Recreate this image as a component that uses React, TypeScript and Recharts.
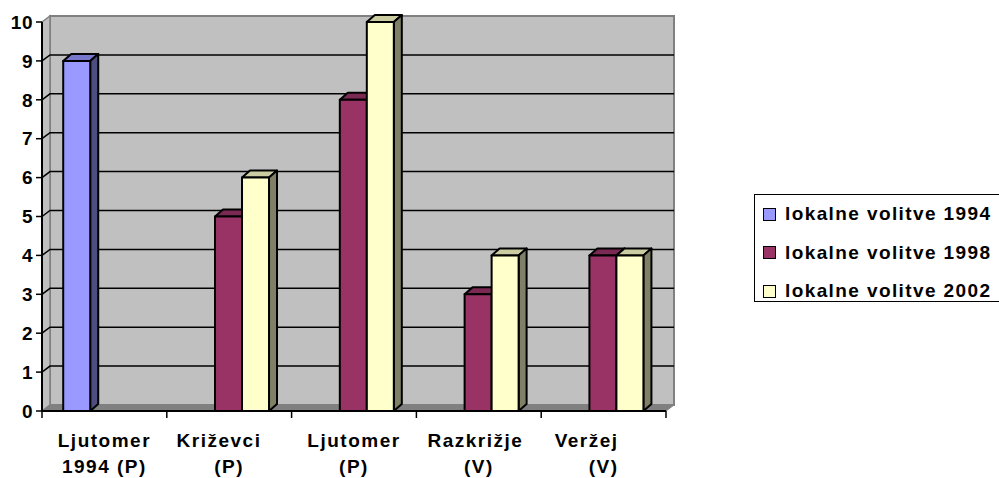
import { BarChart, Bar, XAxis, YAxis, CartesianGrid } from "recharts";

const categories = [
  "Ljutomer\n1994 (P)",
  "Križevci   \n(P)",
  "Ljutomer\n(P)",
  "Razkrižje \n(V)",
  "Veržej     \n(V)",
];
const votes1994 = [9, null, null, null, null];
const votes1998 = [null, 5, 8, 3, 4];
const votes2002 = [null, 6, 10, 4, 4];
const yTicks = [0, 1, 2, 3, 4, 5, 6, 7, 8, 9, 10];

const series = [
  { key: "v1994", name: "lokalne volitve 1994", front: "#9999FF", top: "#7777CC", side: "#4D4D80" },
  { key: "v1998", name: "lokalne volitve 1998", front: "#993366", top: "#7A2952", side: "#4D1A33" },
  { key: "v2002", name: "lokalne volitve 2002", front: "#FFFFCC", top: "#CCCCA3", side: "#808066" },
];

const data = categories.map((name, i) => ({
  name,
  v1994: votes1994[i],
  v1998: votes1998[i],
  v2002: votes2002[i],
}));

const FONT = "'Liberation Sans', Arial, sans-serif";
const CHART_W = 999;
const CHART_H = 478;
const MARGIN = { top: 22, right: 333, bottom: 0, left: 0 };
const Y_AXIS_W = 42;
const X_AXIS_H = 67;
const PLOT_W = CHART_W - MARGIN.left - MARGIN.right - Y_AXIS_W;
const BAND = PLOT_W / categories.length;

// depth of the fake 3d box
const DX = 8;
const DY = 6;

function GridLine(props: any) {
  const { x1, y1, x2, index, x, y, width, height } = props;
  const walls =
    index === 0 ? (
      <g>
        <rect x={x + DX} y={y - DY} width={width} height={height} fill="#C0C0C0" stroke="#808080" strokeWidth={2} />
        <polygon
          points={`${x},${y} ${x + DX},${y - DY} ${x + DX},${y + height - DY} ${x},${y + height}`}
          fill="#C0C0C0"
          stroke="#808080"
          strokeWidth={1.5}
        />
        <polygon
          points={`${x},${y + height} ${x + DX},${y + height - DY} ${x + width + DX},${y + height - DY} ${x + width},${y + height}`}
          fill="#808080"
          stroke="#808080"
          strokeWidth={1}
        />
      </g>
    ) : null;
  const edge = Math.abs(y1 - y) < 0.5 || Math.abs(y1 - (y + height)) < 0.5;
  return (
    <g key={props.key}>
      {walls}
      {!edge && (
        <polyline
          points={`${x1},${y1} ${x1 + DX},${y1 - DY} ${x2 + DX},${y1 - DY}`}
          fill="none"
          stroke="#000"
          strokeWidth={1.5}
        />
      )}
    </g>
  );
}

function Bar3D(props: any) {
  const { x, y, width: w, height: h, front, top, side } = props;
  if (!(h > 0)) return null;
  const dx = DX;
  const dy = DY + 1;
  return (
    <g stroke="#000" strokeWidth={2} strokeLinejoin="round">
      <polygon points={`${x},${y} ${x + dx},${y - dy} ${x + w + dx},${y - dy} ${x + w},${y}`} fill={top} />
      <polygon points={`${x + w},${y} ${x + w + dx},${y - dy} ${x + w + dx},${y + h - dy} ${x + w},${y + h}`} fill={side} />
      <rect x={x} y={y} width={w} height={h} fill={front} />
    </g>
  );
}

function CategoryTick(props: any) {
  const { x, y, payload, index } = props;
  const lines = String(payload.value).split("\n");
  const half = BAND / 2;
  return (
    <g>
      <line x1={x - half} y1={y} x2={x - half} y2={y + 7} stroke="#000" strokeWidth={1.5} />
      {index === categories.length - 1 && (
        <line x1={x + half} y1={y} x2={x + half} y2={y + 7} stroke="#000" strokeWidth={1.5} />
      )}
      {lines.map((t, i) => (
        <text
          key={i}
          x={x}
          y={y + 36 + i * 26}
          textAnchor="middle"
          xmlSpace="preserve"
          style={{ whiteSpace: "pre" }}
          fontFamily={FONT}
          fontSize={19}
          fontWeight={700}
          letterSpacing={1.5}
          fill="#000"
        >
          {t}
        </text>
      ))}
    </g>
  );
}

function Legend3D() {
  return (
    <div
      style={{
        position: "absolute",
        left: 754,
        top: 194,
        width: 300,
        height: 108,
        border: "1.5px solid #000",
        boxSizing: "border-box",
        paddingTop: 0,
        fontFamily: FONT,
      }}
    >
      {series.map((s) => (
        <div key={s.key} style={{ height: 38.5, display: "flex", alignItems: "center" }}>
          <span
            style={{
              display: "inline-block",
              width: 11,
              height: 11,
              marginLeft: 8,
              marginRight: 9,
              background: s.front,
              border: "1px solid #000",
            }}
          />
          <span style={{ fontSize: 19, fontWeight: 700, letterSpacing: 1.4, whiteSpace: "nowrap" }}>{s.name}</span>
        </div>
      ))}
    </div>
  );
}

export default function App() {
  return (
    <div
      style={{
        position: "absolute",
        left: 0,
        top: 0,
        width: CHART_W,
        height: CHART_H,
        overflow: "hidden",
        background: "#fff",
      }}
    >
      <BarChart
        width={CHART_W}
        height={CHART_H}
        data={data}
        margin={MARGIN}
        barCategoryGap="17%"
        barGap={0}
        style={{ fontFamily: FONT }}
      >
        <CartesianGrid vertical={false} horizontal={(p: any) => <GridLine {...p} />} />
        <XAxis
          dataKey="name"
          height={X_AXIS_H}
          interval={0}
          tickSize={0}
          tickMargin={0}
          tickLine={false}
          axisLine={{ stroke: "#000", strokeWidth: 2 }}
          tick={(p: any) => <CategoryTick {...p} />}
        />
        <YAxis
          width={Y_AXIS_W}
          domain={[0, 10]}
          ticks={yTicks}
          interval={0}
          tickSize={6}
          tickMargin={3}
          axisLine={{ stroke: "#000", strokeWidth: 2 }}
          tickLine={{ stroke: "#000", strokeWidth: 1.5 }}
          tick={{ fill: "#000", fontSize: 19, fontWeight: 700, fontFamily: FONT, letterSpacing: 0.5 }}
        />
        {series.map((s) => (
          <Bar
            key={s.key}
            dataKey={s.key}
            name={s.name}
            fill={s.front}
            isAnimationActive={false}
            shape={(p: any) => <Bar3D {...p} front={s.front} top={s.top} side={s.side} />}
          />
        ))}
      </BarChart>
      <Legend3D />
    </div>
  );
}
